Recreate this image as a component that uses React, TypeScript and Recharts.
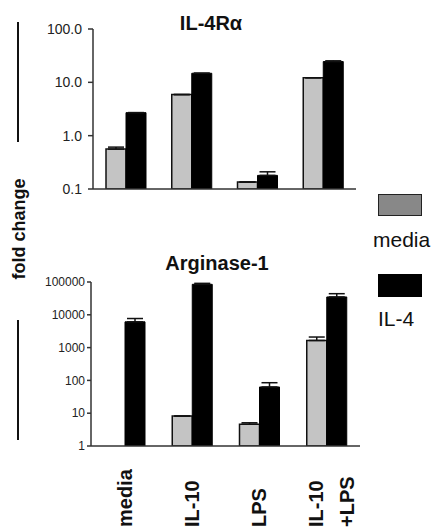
import React from 'react';
import { BarChart, Bar, XAxis, YAxis, ErrorBar } from 'recharts';

const categories = ['media', 'IL-10', 'LPS', 'IL-10\n+LPS'];

const il4raMedia = [0.56, 5.9, 0.135, 12.2];
const il4raIL4 = [2.7, 14.8, 0.18, 24.5];
const il4raMediaErr = [0.05, 0, 0, 0];
const il4raIL4Err = [0, 0, 0.03, 0.8];
const il4raTicks = [0.1, 1, 10, 100];

const arg1Media: (number | null)[] = [null, 8.2, 4.6, 1650];
const arg1IL4 = [6100, 85000, 63, 35000];
const arg1MediaErr = [0, 0, 0.5, 450];
const arg1IL4Err = [1600, 6000, 22, 9000];
const arg1Ticks = [1, 10, 100, 1000, 10000, 100000];

const boundaryTicks = [0, 1, 2, 3, 4];

const topData = categories.map((c, i) => ({
  cat: c,
  media: il4raMedia[i],
  il4: il4raIL4[i],
  mediaErr: [0, il4raMediaErr[i]],
  il4Err: [0, il4raIL4Err[i]],
}));

const bottomData = categories.map((c, i) => ({
  cat: c,
  media: arg1Media[i],
  il4: arg1IL4[i],
  mediaErr: [0, arg1MediaErr[i]],
  il4Err: [0, arg1IL4Err[i]],
}));

const FONT = '"Liberation Sans", Arial, Helvetica, sans-serif';
const GRAY = '#c4c4c4';
const AXIS = { stroke: '#333', strokeWidth: 1.5 };

const fmtTop = (v: number) => v.toFixed(1);
const fmtBottom = (v: number) => String(v);

const CatTick = (props: any) => {
  const { x, y, payload } = props;
  const lines = String(payload.value).split('\n');
  const n = lines.length;
  return (
    <g>
      {lines.map((ln, i) => {
        const dx = n === 1 ? 0 : i === 0 ? -10 : 21;
        return (
          <text
            key={i}
            transform={`translate(${x + dx},${y + 65}) rotate(-90)`}
            textAnchor="start"
            dominantBaseline="central"
            fontFamily={FONT}
            fontWeight="bold"
            fontSize={20}
            fill="#111"
          >
            {ln}
          </text>
        );
      })}
    </g>
  );
};

export default function App() {
  return (
    <div
      style={{
        position: 'absolute',
        left: 0,
        top: 0,
        width: 434,
        height: 530,
        background: '#fff',
        overflow: 'hidden',
        fontFamily: FONT,
      }}
    >
      {/* side brackets */}
      <div style={{ position: 'absolute', left: 17, top: 22, width: 2, height: 120, background: '#111' }} />
      <div style={{ position: 'absolute', left: 17, top: 320, width: 2, height: 120, background: '#111' }} />
      <div
        style={{
          position: 'absolute',
          left: 19,
          top: 229,
          transform: 'translate(-50%,-50%) rotate(-90deg)',
          fontWeight: 'bold',
          fontSize: 18,
          color: '#111',
          whiteSpace: 'nowrap',
        }}
      >
        fold change
      </div>

      {/* titles */}
      <div style={{ position: 'absolute', left: 211, top: 12, transform: 'translateX(-50%)', fontWeight: 'bold', fontSize: 20, color: '#111', whiteSpace: 'nowrap' }}>
        IL-4Rα
      </div>
      <div style={{ position: 'absolute', left: 217, top: 252, transform: 'translateX(-50%)', fontWeight: 'bold', fontSize: 20, color: '#111', whiteSpace: 'nowrap' }}>
        Arginase-1
      </div>

      {/* legend */}
      <div style={{ position: 'absolute', left: 378, top: 194, width: 42, height: 20, background: '#888', border: '1.5px solid #222' }} />
      <div style={{ position: 'absolute', left: 373, top: 228, fontSize: 21, color: '#111' }}>media</div>
      <div style={{ position: 'absolute', left: 378, top: 274, width: 44, height: 23, background: '#000' }} />
      <div style={{ position: 'absolute', left: 378, top: 307, fontSize: 21, color: '#111' }}>IL-4</div>

      {/* top chart */}
      <div style={{ position: 'absolute', left: 0, top: 0 }}>
        <BarChart width={434} height={200} data={topData} margin={{ top: 29, right: 78, bottom: 0, left: 0 }} barGap={0} barSize={20}>
          <XAxis xAxisId="z_cat" dataKey="cat" hide />
          <XAxis xAxisId="a_div" type="number" domain={[0, 4]} ticks={boundaryTicks} allowDataOverflow tick={false} tickSize={5} height={11} axisLine={AXIS} tickLine={AXIS} />
          <YAxis
            scale="log"
            domain={[0.1, 100]}
            ticks={il4raTicks}
            allowDataOverflow
            width={93}
            tickSize={5}
            tickMargin={6}
            tickFormatter={fmtTop}
            axisLine={AXIS}
            tickLine={AXIS}
            tick={{ fontSize: 14, fill: '#222', fontFamily: FONT }}
          />
          <Bar xAxisId="z_cat" dataKey="media" fill={GRAY} stroke="#111" strokeWidth={1.5} isAnimationActive={false}>
            <ErrorBar dataKey="mediaErr" width={8} stroke="#111" strokeWidth={1.5} />
          </Bar>
          <Bar xAxisId="z_cat" dataKey="il4" fill="#000" stroke="#000" strokeWidth={1} isAnimationActive={false}>
            <ErrorBar dataKey="il4Err" width={8} stroke="#111" strokeWidth={1.5} />
          </Bar>
        </BarChart>
      </div>

      {/* bottom chart */}
      <div style={{ position: 'absolute', left: 0, top: 250 }}>
        <BarChart width={434} height={280} data={bottomData} margin={{ top: 32, right: 74, bottom: 0, left: 0 }} barGap={0} barSize={20}>
          <XAxis xAxisId="z_cat" dataKey="cat" axisLine={false} tickLine={false} height={76} tick={<CatTick />} interval={0} />
          <XAxis xAxisId="a_div" type="number" domain={[0, 4]} ticks={boundaryTicks} allowDataOverflow tick={false} tickSize={4} height={8} axisLine={AXIS} tickLine={AXIS} />
          <YAxis
            scale="log"
            domain={[1, 100000]}
            ticks={arg1Ticks}
            allowDataOverflow
            width={91}
            tickSize={4}
            tickMargin={2}
            tickFormatter={fmtBottom}
            axisLine={AXIS}
            tickLine={AXIS}
            tick={{ fontSize: 12, fill: '#222', fontFamily: FONT }}
          />
          <Bar xAxisId="z_cat" dataKey="media" fill={GRAY} stroke="#111" strokeWidth={1.5} isAnimationActive={false}>
            <ErrorBar dataKey="mediaErr" width={8} stroke="#111" strokeWidth={1.5} />
          </Bar>
          <Bar xAxisId="z_cat" dataKey="il4" fill="#000" stroke="#000" strokeWidth={1} isAnimationActive={false}>
            <ErrorBar dataKey="il4Err" width={8} stroke="#111" strokeWidth={1.5} />
          </Bar>
        </BarChart>
      </div>
    </div>
  );
}
